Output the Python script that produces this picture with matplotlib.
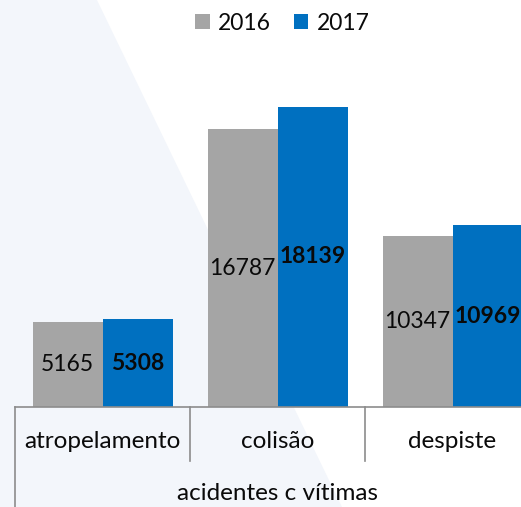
import matplotlib
matplotlib.use("Agg")
import matplotlib.pyplot as plt
import numpy as np
from matplotlib.patches import Polygon
from matplotlib.transforms import blended_transform_factory

categories = ["atropelamento", "colisão", "despiste"]
group_label = "acidentes c vítimas"
series_names = ["2016", "2017"]
values_2016 = [5165, 16787, 10347]
values_2017 = [5308, 18139, 10969]

W, H = 521, 507
plt.rcParams["font.family"] = ["Lato", "DejaVu Sans"]
FS = 16.5      # numbers / legend
FS_CAT = 17.5  # category axis text

fig = plt.figure(figsize=(W / 100, H / 100), dpi=100)
fig.patch.set_facecolor("white")

# light diagonal background shape (pixel coords, origin top-left)
bg_ax = fig.add_axes([0, 0, 1, 1], zorder=-1)
bg_ax.set_xlim(0, W)
bg_ax.set_ylim(H, 0)
bg_ax.axis("off")
bg_ax.add_patch(Polygon([(0, 0), (97, 0), (342, 507), (0, 507)], closed=True,
                        facecolor="#F3F6FB", edgecolor="none"))

# plot area: x from 15 px to 540 px (clipped by figure edge), bottom at 407 px
left, right, bottom, top = 15, 540, 407, 76
ax = fig.add_axes([left / W, 1 - bottom / H, (right - left) / W, (bottom - top) / H])
ax.set_facecolor("none")
ax.set_xlim(-0.5, 2.5)
ax.set_ylim(0, 20000)

x = np.arange(len(categories))
bw = 0.4
b1 = ax.bar(x - bw / 2, values_2016, bw, color="#A5A5A5", label=series_names[0], zorder=2)
b2 = ax.bar(x + bw / 2, values_2017, bw, color="#0070C0", label=series_names[1], zorder=2)

for rect, v in zip(b1, values_2016):
    ax.text(rect.get_x() + rect.get_width() / 2, v / 2, f"{v}", ha="center", va="center",
            fontsize=FS, color="#0A0A0A", zorder=3)
for rect, v in zip(b2, values_2017):
    ax.text(rect.get_x() + rect.get_width() / 2, v / 2, f"{v}", ha="center", va="center",
            fontsize=FS, fontweight="bold", color="#0A0A0A", zorder=3)

for s in ["top", "right", "left"]:
    ax.spines[s].set_visible(False)
ax.spines["bottom"].set_color("#8C8C8C")
ax.spines["bottom"].set_linewidth(1.2)
ax.set_xticks([])
ax.set_yticks([])

# two-level category axis
tr = blended_transform_factory(ax.transData, ax.transAxes)
px = 1 / (bottom - top)  # one pixel in axes fraction
for i, sep in enumerate([-0.5, 0.5, 1.5, 2.5]):
    depth = (507 - bottom) if i in (0, 3) else 54
    ax.plot([sep, sep], [0, -depth * px], transform=tr, color="#8C8C8C",
            linewidth=1.2, clip_on=False)
for xi, name in zip(x, categories):
    ax.text(xi, -34 * px, name, transform=tr, ha="center", va="center",
            fontsize=FS_CAT, color="#0A0A0A")
ax.text(1, -87 * px, group_label, transform=tr, ha="center", va="center",
        fontsize=FS_CAT, color="#0A0A0A")

leg = fig.legend(handles=[b1, b2], loc="center", bbox_to_anchor=(282 / W, 1 - 23 / H),
                 ncol=2, frameon=False, fontsize=FS, handlelength=0.65, handleheight=0.65,
                 handletextpad=0.35, columnspacing=1.0, borderpad=0)
for t in leg.get_texts():
    t.set_color("#0A0A0A")

fig.savefig("out.png", dpi=100)
